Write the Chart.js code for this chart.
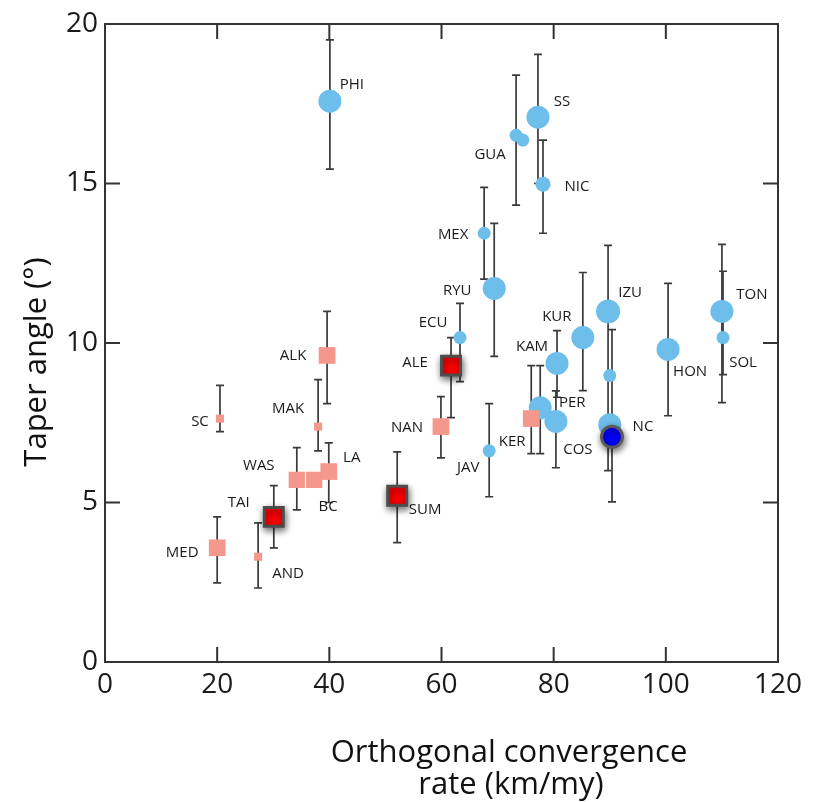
<!DOCTYPE html>
<html>
<head>
<meta charset="utf-8">
<script src="https://cdn.jsdelivr.net/npm/chart.js@4.4.0/dist/chart.umd.min.js"></script>
<style>
  html, body { margin: 0; padding: 0; background: #fff; }
</style>
</head>
<body>
<canvas id="taperChart" width="817" height="802"></canvas>
<script>
// light blue circles
const blueNames = ['PHI', 'SS', 'GUA', '', 'NIC', 'MEX', 'RYU', 'ECU', 'KUR', 'IZU', '', '', 'HON', 'TON', 'SOL', 'KAM', 'PER', 'COS', 'JAV'];
const blueRate  = [40.1, 77.2, 73.3, 74.5, 78.1, 67.6, 69.4, 63.3, 85.2, 89.7, 90.0, 90.0, 100.4, 110.0, 110.2, 80.6, 77.6, 80.4, 68.5];
const blueTaper = [17.58, 17.08, 16.51, 16.36, 14.98, 13.44, 11.71, 10.17, 10.17, 10.99, 8.98, 7.44, 9.8, 10.99, 10.17, 9.36, 7.97, 7.54, 6.62];
const blueLow   = [15.45, 15.0, 14.32, null, 13.44, 12.0, 9.58, 8.79, 8.51, 6.0, null, null, 7.72, 8.13, 9.01, 8.3, 6.53, 6.09, 5.18];
const blueHigh  = [19.5, 19.05, 18.4, null, 16.36, 14.88, 13.75, 11.24, 12.21, 13.06, null, null, 11.87, 13.09, 12.25, 10.39, 9.29, 8.5, 8.1];

// salmon squares
const pinkNames = ['SC', 'ALK', 'MAK', 'WAS', 'BC', 'LA', 'MED', 'AND', 'NAN', 'KER'];
const pinkRate  = [20.5, 39.6, 38.0, 34.2, 37.3, 39.9, 20.0, 27.3, 59.9, 76.0];
const pinkTaper = [7.63, 9.61, 7.38, 5.71, 5.71, 5.97, 3.58, 3.3, 7.38, 7.63];
const pinkLow   = [7.22, 8.1, 6.62, 4.77, null, 5.0, 2.48, 2.32, 6.4, 6.53];
const pinkHigh  = [8.67, 10.99, 8.85, 6.72, null, 6.87, 4.55, 4.36, 8.32, 9.29];

// red squares
const redNames = ['TAI', 'SUM', 'ALE'];
const redRate  = [30.1, 52.1, 61.7];
const redTaper = [4.55, 5.21, 9.29];
const redLow   = [3.58, 3.74, 7.66];
const redHigh  = [5.53, 6.59, 10.17];

// dark blue circle
const ncNames = ['NC'];
const ncRate  = [90.4];
const ncTaper = [7.06];
const ncLow   = [5.02];
const ncHigh  = [10.42];

// axis ticks
const xTicks = [0, 20, 40, 60, 80, 100, 120];
const yTicks = [0, 5, 10, 15, 20];

// marker sizes and label placement (pixels)
const blueRadius = [11.5, 11.5, 6.5, 6.5, 7.5, 6.5, 11.5, 6.5, 11.5, 12, 6.5, 11.5, 11.5, 11.5, 6.5, 11.5, 11.5, 11.5, 6.5];
const pinkRadius = [5.7, 11.8, 5.7, 11.5, 11.5, 11.8, 11.8, 5.7, 11.8, 11.8];
const blueLabelOff = [[22,-16],[24,-15],[-26,19],[0,0],[34,3],[-31,1],[-37,2],[-27,-15],[-26,-21],[22,-19],[0,0],[0,0],[22,22],[30,-17],[20,25],[-25,-17],[32,-5],[22,28],[-21,17]];
const pinkLabelOff = [[-20,3],[-34,0],[-30,-18],[-38,-14],[14,27],[23,-14],[-35,5],[30,17],[-34,1],[-19,23]];
const redLabelOff  = [[-35,-14],[28,14],[-36,-3]];
const ncLabelOff   = [[31,-10]];

function toPoints(xs, ys) {
    return xs.map(function(v, i) { return { x: v, y: ys[i] }; });
}

const FONT = '"Open Sans", "DejaVu Sans", sans-serif';

const data = {
    datasets: [
        {
            label: 'NC',
            data: toPoints(ncRate, ncTaper),
            names: ncNames, low: ncLow, high: ncHigh, labelOff: ncLabelOff,
            pointStyle: 'circle',
            pointRadius: 10.5,
            backgroundColor: '#0000ff',
            borderColor: '#5a5a5a',
            borderWidth: 3,
            shadow: true,
            order: 0
        },
        {
            label: 'red',
            data: toPoints(redRate, redTaper),
            names: redNames, low: redLow, high: redHigh, labelOff: redLabelOff,
            pointStyle: 'rect',
            pointRadius: 13.4,
            backgroundColor: '#ff0000',
            borderColor: '#4d4d4d',
            borderWidth: 3,
            shadow: true,
            order: 1
        },
        {
            label: 'pink',
            data: toPoints(pinkRate, pinkTaper),
            names: pinkNames, low: pinkLow, high: pinkHigh, labelOff: pinkLabelOff,
            pointStyle: 'rect',
            pointRadius: pinkRadius,
            backgroundColor: '#f4978c',
            borderWidth: 0,
            order: 2
        },
        {
            label: 'blue',
            data: toPoints(blueRate, blueTaper),
            names: blueNames, low: blueLow, high: blueHigh, labelOff: blueLabelOff,
            pointStyle: 'circle',
            pointRadius: blueRadius,
            backgroundColor: '#6dbeea',
            borderWidth: 0,
            order: 3
        }
    ]
};

// error bars behind the markers
const errorBars = {
    id: 'errorBars',
    beforeDatasetsDraw(chart) {
        const ctx = chart.ctx;
        const xs = chart.scales.x, ys = chart.scales.y;
        ctx.save();
        ctx.strokeStyle = '#3a3a3a';
        ctx.lineWidth = 1.7;
        chart.data.datasets.forEach(function(ds) {
            ds.data.forEach(function(p, i) {
                if (ds.low[i] == null) return;
                const px = xs.getPixelForValue(p.x);
                const y1 = ys.getPixelForValue(ds.low[i]);
                const y2 = ys.getPixelForValue(ds.high[i]);
                ctx.beginPath();
                ctx.moveTo(px, y1); ctx.lineTo(px, y2);
                ctx.moveTo(px - 4, y1); ctx.lineTo(px + 4, y1);
                ctx.moveTo(px - 4, y2); ctx.lineTo(px + 4, y2);
                ctx.stroke();
            });
        });
        ctx.restore();
    }
};

// drop shadow on the highlighted markers
const markerShadow = {
    id: 'markerShadow',
    beforeDatasetDraw(chart, args) {
        const ds = chart.data.datasets[args.index];
        if (!ds.shadow) return;
        const ctx = chart.ctx;
        ctx.save();
        ctx.shadowColor = 'rgba(0,0,0,0.55)';
        ctx.shadowBlur = 7;
        ctx.shadowOffsetX = 1;
        ctx.shadowOffsetY = 3;
    },
    afterDatasetDraw(chart, args) {
        const ds = chart.data.datasets[args.index];
        if (ds.shadow) chart.ctx.restore();
    }
};

// point names
const pointNames = {
    id: 'pointNames',
    afterDatasetsDraw(chart) {
        const ctx = chart.ctx;
        ctx.save();
        ctx.font = '15px ' + FONT;
        ctx.fillStyle = '#1a1a1a';
        ctx.textAlign = 'center';
        ctx.textBaseline = 'middle';
        chart.data.datasets.forEach(function(ds, d) {
            const meta = chart.getDatasetMeta(d);
            ds.names.forEach(function(n, i) {
                if (!n) return;
                const el = meta.data[i];
                ctx.fillText(n, el.x + ds.labelOff[i][0], el.y + ds.labelOff[i][1]);
            });
        });
        ctx.restore();
    }
};

// box frame with inward ticks and the axis titles
const frame = {
    id: 'frame',
    afterDraw(chart) {
        const ctx = chart.ctx;
        const a = chart.chartArea;
        const xs = chart.scales.x, ys = chart.scales.y;
        const tl = 15;
        ctx.save();
        ctx.strokeStyle = '#333';
        ctx.lineWidth = 2;
        ctx.strokeRect(a.left, a.top, a.right - a.left, a.bottom - a.top);
        ctx.beginPath();
        xTicks.slice(1, -1).forEach(function(v) {
            const px = xs.getPixelForValue(v);
            ctx.moveTo(px, a.bottom); ctx.lineTo(px, a.bottom - tl);
            ctx.moveTo(px, a.top); ctx.lineTo(px, a.top + tl);
        });
        yTicks.slice(1, -1).forEach(function(v) {
            const py = ys.getPixelForValue(v);
            ctx.moveTo(a.left, py); ctx.lineTo(a.left + tl, py);
            ctx.moveTo(a.right, py); ctx.lineTo(a.right - tl, py);
        });
        ctx.stroke();

        ctx.fillStyle = '#111';
        ctx.font = '31px ' + FONT;
        ctx.textAlign = 'center';
        ctx.textBaseline = 'alphabetic';
        ctx.fillText('Orthogonal convergence', 509, 762);
        ctx.fillText('rate (km/my)', 511, 794);

        ctx.translate(46, 362);
        ctx.rotate(-Math.PI / 2);
        ctx.fillText('Taper angle (°)', 0, 0);
        ctx.restore();
    }
};

const config = {
    type: 'scatter',
    data: data,
    options: {
        responsive: false,
        animation: false,
        layout: { padding: { left: 0, right: 39, top: 24, bottom: 0 } },
        plugins: {
            legend: { display: false },
            tooltip: { enabled: false }
        },
        scales: {
            x: {
                type: 'linear',
                min: 0, max: 120,
                afterBuildTicks(s) { s.ticks = xTicks.map(function(v) { return { value: v }; }); },
                afterFit(s) { s.height = 140; },
                grid: { display: false, drawTicks: false },
                border: { display: false },
                ticks: { font: { family: FONT, size: 28 }, color: '#1a1a1a', padding: 6, maxRotation: 0 }
            },
            y: {
                type: 'linear',
                min: 0, max: 20,
                afterBuildTicks(s) { s.ticks = yTicks.map(function(v) { return { value: v }; }); },
                afterFit(s) { s.width = 105; },
                grid: { display: false, drawTicks: false },
                border: { display: false },
                ticks: { font: { family: FONT, size: 28 }, color: '#1a1a1a', padding: 7 }
            }
        }
    },
    plugins: [errorBars, markerShadow, pointNames, frame]
};

const chart = new Chart(document.getElementById('taperChart'), config);
</script>
</body>
</html>
